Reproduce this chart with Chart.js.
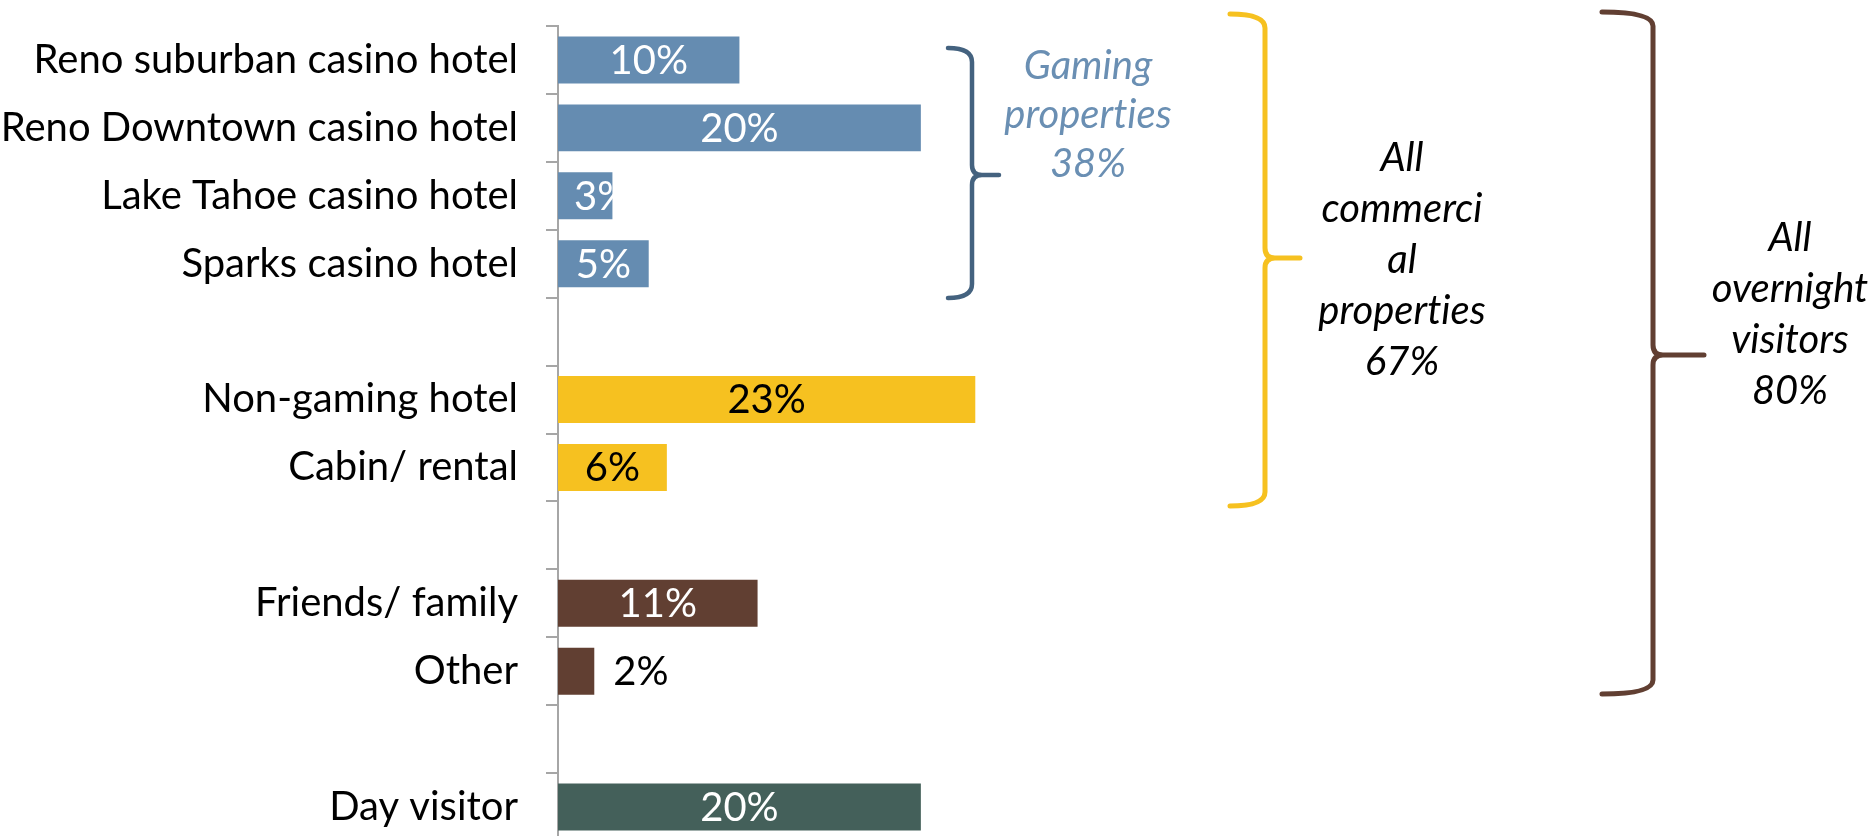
<!DOCTYPE html>
<html>
<head>
<meta charset="utf-8">
<script src="https://cdn.jsdelivr.net/npm/chart.js@4.4.1/dist/chart.umd.min.js"></script>
<style>
  html, body { margin: 0; padding: 0; background: #ffffff; overflow: hidden; }
  #wrap { position: relative; width: 1875px; height: 845px; }
</style>
</head>
<body>
<div id="wrap"><canvas id="chart"></canvas></div>
<script>
// Where visitors stayed, share of all visitors (%)
const categories = [
  'Reno suburban casino hotel',
  'Reno Downtown casino hotel',
  'Lake Tahoe casino hotel',
  'Sparks casino hotel',
  '',
  'Non-gaming hotel',
  'Cabin/ rental',
  '',
  'Friends/ family',
  'Other',
  '',
  'Day visitor'
];
const shares = [10, 20, 3, 5, null, 23, 6, null, 11, 2, null, 20];
const groups = ['gaming', 'gaming', 'gaming', 'gaming', null, 'commercial', 'commercial', null, 'private', 'private', null, 'day'];

// Group subtotals shown beside the braces
const gamingLines = ['Gaming', 'properties', '38%'];
const commercialLines = ['All', 'commerci', 'al', 'properties', '67%'];
const overnightLines = ['All', 'overnight', 'visitors', '80%'];

const FONT = 'Lato, "Noto Sans", sans-serif';
const groupColors = { gaming: '#658cb1', commercial: '#f6c120', private: '#613f32', day: '#44605a' };
const labelInk = { gaming: '#ffffff', commercial: '#000000', private: '#ffffff', day: '#ffffff' };

// Keep "t" and "i" as separate glyphs (Lato would otherwise join them)
const noLig = s => s.replace(/ti/g, 't\u200Ci');

// Value labels: centred in the bar, nudged off the axis, or outside when the bar is too short
const valueLabels = {
  id: 'valueLabels',
  afterDatasetsDraw(chart) {
    const ctx = chart.ctx;
    const meta = chart.getDatasetMeta(0);
    ctx.save();
    ctx.font = '40px ' + FONT;
    ctx.textBaseline = 'middle';
    ctx.textAlign = 'center';
    meta.data.forEach((bar, i) => {
      const v = shares[i];
      if (v === null || v === undefined) return;
      const text = v + '%';
      const w = ctx.measureText(text).width;
      const len = bar.x - bar.base;
      let x, color;
      if (len < 40) {
        x = bar.x + 19 + w / 2;
        color = '#000000';
      } else {
        x = Math.max((bar.x + bar.base) / 2, bar.base + 16 + w / 2);
        color = labelInk[groups[i]];
      }
      ctx.fillStyle = color;
      ctx.fillText(text, x, bar.y + 1);
    });
    ctx.restore();
  }
};

// Curly braces grouping the bars, with their subtotal captions
const braces = [
  { left: 948, x: 972, tip: 999, top: 48, mid: 175, bottom: 298, color: '#44627f', width: 4.5,
    lines: gamingLines, cx: 1088, y0: 66, step: 49, ink: '#6a8fb3' },
  { left: 1230, x: 1265, tip: 1300, top: 14, mid: 258, bottom: 506, color: '#f6c120', width: 5,
    lines: commercialLines, cx: 1402, y0: 158, step: 51, ink: '#000000' },
  { left: 1602, x: 1653, tip: 1704, top: 12, mid: 355, bottom: 694, color: '#613f32', width: 5,
    lines: overnightLines, cx: 1790, y0: 238, step: 51, ink: '#000000' }
];

const bracePlugin = {
  id: 'braces',
  afterDraw(chart) {
    const ctx = chart.ctx;
    ctx.save();
    braces.forEach(b => {
      const r = Math.min(14, (b.x - b.left) * 0.6);
      const n = 10;
      ctx.strokeStyle = b.color;
      ctx.lineWidth = b.width;
      ctx.lineCap = 'round';
      ctx.lineJoin = 'round';
      ctx.beginPath();
      ctx.moveTo(b.left, b.top);
      ctx.quadraticCurveTo(b.x, b.top, b.x, b.top + r);
      ctx.lineTo(b.x, b.mid - n);
      ctx.quadraticCurveTo(b.x, b.mid, b.x + n, b.mid);
      ctx.lineTo(b.tip, b.mid);
      ctx.moveTo(b.x + n, b.mid);
      ctx.quadraticCurveTo(b.x, b.mid, b.x, b.mid + n);
      ctx.lineTo(b.x, b.bottom - r);
      ctx.quadraticCurveTo(b.x, b.bottom, b.left, b.bottom);
      ctx.stroke();

      ctx.fillStyle = b.ink;
      ctx.font = 'italic 40px ' + FONT;
      ctx.textAlign = 'center';
      ctx.textBaseline = 'middle';
      b.lines.forEach((t, k) => ctx.fillText(noLig(t), b.cx, b.y0 + k * b.step));
    });
    ctx.restore();
  }
};

new Chart(document.getElementById('chart'), {
  type: 'bar',
  data: {
    labels: categories,
    datasets: [{
      data: shares,
      backgroundColor: groups.map(g => g ? groupColors[g] : 'rgba(0,0,0,0)'),
      borderWidth: 0,
      barPercentage: 0.69,
      categoryPercentage: 1
    }]
  },
  options: {
    indexAxis: 'y',
    responsive: true,
    maintainAspectRatio: false,
    animation: false,
    devicePixelRatio: 1,
    layout: { padding: { top: 26, right: 47, bottom: 4, left: 0 } },
    plugins: { legend: { display: false }, tooltip: { enabled: false } },
    scales: {
      x: { display: false, min: 0, max: 70 },
      y: {
        afterFit(scale) {
          scale.width = 558;
          scale.paddingTop = 0;
          scale.paddingBottom = 0;
        },
        grid: { drawOnChartArea: false, tickLength: 12, color: '#a6a6a6', lineWidth: 2, offset: true },
        border: { color: '#a6a6a6', width: 2 },
        ticks: { color: '#000000', padding: 28, autoSkip: false, font: { family: FONT, size: 40 } }
      }
    }
  },
  plugins: [valueLabels, bracePlugin]
});
</script>
</body>
</html>
